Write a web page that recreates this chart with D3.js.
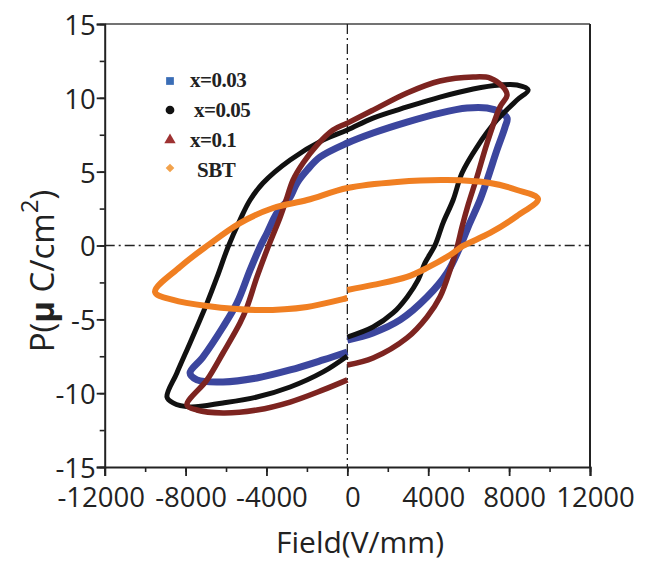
<!DOCTYPE html>
<html>
<head>
<meta charset="utf-8">
<script src="https://cdn.jsdelivr.net/npm/d3@7"></script>
<style>
  html, body { margin: 0; padding: 0; background: #fff; }
  svg { display: block; }
</style>
</head>
<body>
<svg id="chart" width="656" height="561"></svg>
<script>
// ---------------- DATA ----------------
const categories = ["x=0.03", "x=0.05", "x=0.1", "SBT"];
const xTickValues = [-12000, -8000, -4000, 0, 4000, 8000, 12000];
const yTickValues = [-15, -10, -5, 0, 5, 10, 15];

// x=0.03 loop (field V/mm, polarization uC/cm2)
const fieldX003 = [0, 1270, 2610, 3940, 4930, 5570, 5970, 6560, 6910, 7400, 7800, 7900, 7550, 6910, 5920, 4580, 2950, 1270, 0, -1350, -1990, -2490, -2830, -3480, -3970, -4320, -4810, -5460, -6150, -7140, -7780, -7440, -6150, -4470, -2830, -1200, 0];
const polX003   = [-6.4, -5.92, -5.04, -3.49, -1.86, -0.1, 1.25, 3.08, 4.43, 6.47, 8.02, 8.63, 9.04, 9.31, 9.31, 8.97, 8.36, 7.62, 6.94, 5.99, 5.11, 4.23, 3.28, 2.2, 0.85, -0.1, -1.66, -3.9, -5.52, -7.55, -8.63, -9.1, -9.24, -8.97, -8.43, -7.75, -7.21];

// x=0.05 loop
const fieldX005 = [0, 1270, 2260, 2960, 3500, 3840, 4340, 4730, 5230, 5670, 6410, 7400, 8390, 8940, 8390, 7550, 6220, 4580, 2950, 1270, 0, -1200, -2830, -4170, -4810, -5310, -5900, -6440, -6940, -7290, -7780, -8430, -8920, -8620, -7780, -6150, -4470, -2830, -1200, 0];
const polX005   = [-6.2, -5.52, -4.57, -3.48, -2.33, -1.18, 0.03, 1.52, 3.08, 4.91, 6.67, 8.5, 9.85, 10.53, 10.87, 10.87, 10.6, 10.05, 9.38, 8.63, 7.82, 7.14, 5.79, 4.23, 3.08, 1.73, -0.1, -2.13, -3.9, -5.04, -6.6, -8.63, -10.26, -10.66, -10.93, -10.66, -10.26, -9.58, -8.56, -7.48];

// x=0.1 loop
const fieldX01 = [0, 1270, 2950, 3940, 4580, 5080, 5430, 5670, 5970, 6410, 6910, 7550, 7900, 7700, 7060, 6220, 4580, 2950, 1270, 0, -710, -1500, -2190, -2690, -2980, -3330, -3920, -4470, -4960, -5310, -6150, -6940, -7930, -7440, -6150, -4470, -2830, -1200, 0];
const polX01   = [-8.09, -7.62, -6.26, -4.84, -3.49, -1.66, -0.1, 1.25, 2.74, 4.64, 6.94, 9.38, 10.19, 10.73, 11.34, 11.41, 11.14, 10.33, 9.17, 8.29, 7.82, 6.8, 5.59, 4.43, 3.28, 1.9, -0.1, -2.13, -4.16, -5.25, -7.28, -9.1, -10.8, -11.14, -11.34, -11.14, -10.6, -9.78, -9.1];

// SBT loop
const fieldSBT = [0, 1270, 2950, 3940, 5080, 5720, 7060, 8390, 9430, 8390, 7060, 4930, 2460, 0, -1990, -3670, -5310, -6940, -8280, -9510, -8620, -6940, -4470, -1990, 0];
const polSBT   = [-3.01, -2.67, -2.13, -1.52, -0.64, -0.03, 0.85, 2.0, 3.15, 3.76, 4.23, 4.43, 4.3, 3.89, 3.08, 2.54, 1.52, -0.03, -1.46, -3.15, -3.69, -4.1, -4.37, -4.16, -3.55];

// ---------------- CHART ----------------
const svg = d3.select("#chart");
const L = 104.7, R = 590, T = 24, B = 467;
const x = d3.scaleLinear().domain([-12000, 12000]).range([L, R]);
const y = d3.scaleLinear().domain([-15, 15]).range([B, T]);

const axisFont = "'Open Sans', sans-serif";

// frame top & right
svg.append("line").attr("x1", L).attr("x2", R).attr("y1", T).attr("y2", T)
  .attr("stroke", "#444").attr("stroke-width", 1.5);
svg.append("line").attr("x1", R).attr("x2", R).attr("y1", T).attr("y2", B)
  .attr("stroke", "#222").attr("stroke-width", 2);

// zero reference lines (dash-dot)
svg.append("line").attr("x1", L).attr("x2", R).attr("y1", y(0)).attr("y2", y(0))
  .attr("stroke", "#222").attr("stroke-width", 1.3).attr("stroke-dasharray", "10,4,2,4");
svg.append("line").attr("x1", x(0)).attr("x2", x(0)).attr("y1", T).attr("y2", B)
  .attr("stroke", "#222").attr("stroke-width", 1.3).attr("stroke-dasharray", "10,4,2,4");

// series
const series = [
  { name: categories[0], E: fieldX003, P: polX003, color: "#3c469e", width: 7 },
  { name: categories[1], E: fieldX005, P: polX005, color: "#111111", width: 5 },
  { name: categories[2], E: fieldX01,  P: polX01,  color: "#7d2420", width: 5.5 },
  { name: categories[3], E: fieldSBT,  P: polSBT,  color: "#f07f22", width: 6 }
];
const line = d3.line()
  .x(d => x(d[0])).y(d => y(d[1]))
  .curve(d3.curveCatmullRom.alpha(0.5));

svg.append("g").selectAll("path").data(series).join("path")
  .attr("d", s => line(s.E.map((e, i) => [e, s.P[i]])))
  .attr("fill", "none")
  .attr("stroke", s => s.color)
  .attr("stroke-width", s => s.width)
  .attr("stroke-linejoin", "round")
  .attr("stroke-linecap", "butt");

// x axis
const xMinor = d3.axisBottom(x).tickValues(d3.range(-12000, 12001, 2000)).tickSize(5).tickFormat("");
const gxm = svg.append("g").attr("transform", `translate(0,${B})`).call(xMinor);
gxm.select(".domain").remove();
gxm.selectAll("line").attr("stroke", "#222").attr("stroke-width", 1.6);

const xAxis = d3.axisBottom(x).tickValues(xTickValues).tickSize(9).tickFormat(d3.format("d"));
const gx = svg.append("g").attr("transform", `translate(0,${B})`).call(xAxis);
gx.select(".domain").attr("stroke", "#222").attr("stroke-width", 2);
gx.selectAll("line").attr("stroke", "#222").attr("stroke-width", 1.8);
gx.selectAll("text")
  .attr("y", 40).attr("dy", 0).attr("dx", d => d === -12000 ? -4 : 5)
  .attr("font-family", axisFont).attr("font-size", 27.5).attr("fill", "#222")
  .text(d => d3.format("d")(d).replace("\u2212", "-"));

// y axis
const yMinor = d3.axisLeft(y).tickValues(d3.range(-15, 15.01, 2.5)).tickSize(5).tickFormat("");
const gym = svg.append("g").attr("transform", `translate(${L},0)`).call(yMinor);
gym.select(".domain").remove();
gym.selectAll("line").attr("stroke", "#222").attr("stroke-width", 1.6);

const yAxis = d3.axisLeft(y).tickValues(yTickValues).tickSize(8).tickPadding(1);
const gy = svg.append("g").attr("transform", `translate(${L},0)`).call(yAxis);
gy.select(".domain").attr("stroke", "#222").attr("stroke-width", 2);
gy.selectAll("line").attr("stroke", "#222").attr("stroke-width", 1.8);
gy.selectAll("text")
  .attr("dy", "0.38em")
  .attr("font-family", axisFont).attr("font-size", 27.5).attr("fill", "#222")
  .text(d => String(d));

// axis titles
svg.append("text")
  .attr("x", 360).attr("y", 553)
  .attr("text-anchor", "middle")
  .attr("font-family", axisFont).attr("font-size", 30).attr("fill", "#222")
  .text("Field(V/mm)");

const yt = svg.append("text")
  .attr("transform", "translate(54,271) rotate(-90)")
  .attr("text-anchor", "middle")
  .attr("font-family", axisFont).attr("font-size", 33).attr("fill", "#222");
yt.append("tspan").text("P(");
yt.append("tspan").attr("font-weight", "bold").text("\u03bc");
yt.append("tspan").text(" C/cm");
yt.append("tspan").attr("font-size", 24).attr("dy", -16).text("2");
yt.append("tspan").attr("dy", 16).text(")");

// legend
const diamondShape = d3.symbolDiamond2 || d3.symbolDiamond;
const legendData = [
  { label: categories[0], shape: d3.symbolSquare,   size: 60, color: "#3a6db6", my: 81,  tx: 190, ty: 87 },
  { label: categories[1], shape: d3.symbolCircle,   size: 60, color: "#111111", my: 110, tx: 194, ty: 117 },
  { label: categories[2], shape: d3.symbolTriangle, size: 56, color: "#9e3232", my: 140, tx: 190, ty: 147 },
  { label: categories[3], shape: diamondShape,      size: 48, color: "#f2a24c", my: 168, tx: 197, ty: 177 }
];
const lg = svg.append("g");
lg.selectAll("path").data(legendData).join("path")
  .attr("transform", d => `translate(170,${d.my})`)
  .attr("d", d => d3.symbol().type(d.shape).size(d.size)())
  .attr("fill", d => d.color);
lg.selectAll("text").data(legendData).join("text")
  .attr("x", d => d.tx).attr("y", d => d.ty)
  .attr("font-family", "'Liberation Serif', 'Times New Roman', serif")
  .attr("font-weight", "bold").attr("font-size", 21).attr("fill", "#222")
  .attr("letter-spacing", -0.5)
  .text(d => d.label);
</script>
</body>
</html>
